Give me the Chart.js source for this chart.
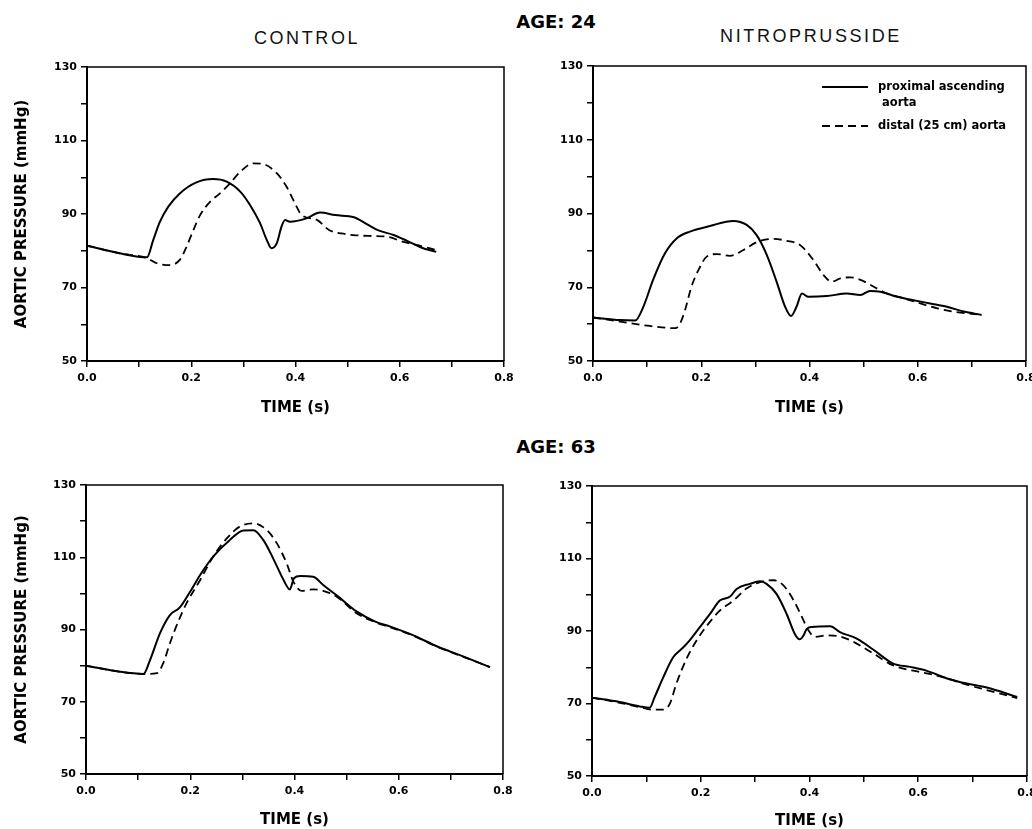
<!DOCTYPE html>
<html>
<head>
<meta charset="utf-8">
<title>Aortic pressure</title>
<script src="https://cdn.jsdelivr.net/npm/chart.js@4.4.0/dist/chart.umd.min.js"></script>
<style>
    body { margin: 0; background: #fff; width: 1032px; height: 829px; overflow: hidden; position: relative; }
    canvas { position: absolute; }
    .head { position: absolute; font: bold 18px "DejaVu Sans", sans-serif; line-height: 20px; color: #000; transform: translateX(-50%); white-space: nowrap; }
    .sub { position: absolute; font: 18px "Liberation Sans", Arial, sans-serif; line-height: 20px; letter-spacing: 2.6px; color: #111; transform: translateX(-50%); white-space: nowrap; }
</style>
</head>
<body>
<div class="head" style="left:556px; top:12px">AGE: 24</div>
<div class="sub" style="left:307px; top:28px">CONTROL</div>
<div class="sub" style="left:811px; top:26px">NITROPRUSSIDE</div>
<div class="head" style="left:556px; top:437px">AGE: 63</div>

<canvas id="young_control" width="530" height="367" style="left:0; top:50px"></canvas>
<canvas id="young_nitro" width="492" height="367" style="left:540px; top:50px"></canvas>
<canvas id="old_control" width="530" height="359" style="left:0; top:470px"></canvas>
<canvas id="old_nitro" width="492" height="360" style="left:540px; top:470px"></canvas>

<script>
// series names (legend) and axis labels
var seriesNames = [["proximal ascending", " aorta"], "distal (25 cm) aorta"];
var yTitle = "AORTIC PRESSURE (mmHg)";
var xTitle = "TIME (s)";

// AGE 24, control
var yc_t_prox = [0, 0.063, 0.115, 0.127, 0.14, 0.156, 0.178, 0.21, 0.242, 0.268, 0.294, 0.313, 0.332, 0.345, 0.354, 0.364, 0.373, 0.38, 0.389, 0.421, 0.447, 0.476, 0.512, 0.535, 0.558, 0.588, 0.617, 0.641, 0.67];
var yc_p_prox = [81.4, 79.3, 78.2, 82.9, 87.9, 92.0, 95.6, 98.6, 99.5, 98.8, 96.1, 92.4, 87.5, 82.9, 80.7, 82.0, 86.5, 88.4, 87.9, 88.8, 90.4, 89.7, 89.1, 87.4, 85.6, 84.3, 82.5, 80.9, 79.7];
var yc_t_dist = [0, 0.063, 0.115, 0.134, 0.159, 0.178, 0.191, 0.204, 0.217, 0.236, 0.255, 0.274, 0.294, 0.319, 0.338, 0.364, 0.383, 0.399, 0.412, 0.441, 0.465, 0.488, 0.517, 0.547, 0.576, 0.605, 0.635, 0.67];
var yc_p_dist = [81.4, 79.3, 78.0, 76.6, 76.1, 77.5, 81.1, 85.6, 89.7, 93.3, 95.6, 98.3, 101.5, 103.8, 103.6, 101.1, 97.4, 92.9, 89.7, 88.4, 85.6, 84.7, 84.2, 84.0, 83.8, 82.5, 81.5, 80.2];

// AGE 24, nitroprusside
var yn_t_prox = [0, 0.05, 0.078, 0.093, 0.111, 0.133, 0.155, 0.179, 0.216, 0.259, 0.284, 0.302, 0.321, 0.339, 0.355, 0.366, 0.376, 0.386, 0.398, 0.432, 0.469, 0.494, 0.512, 0.531, 0.562, 0.592, 0.623, 0.654, 0.685, 0.718];
var yn_p_prox = [61.8, 61.1, 61.0, 64.7, 72.0, 79.2, 83.3, 85.1, 86.6, 88.0, 86.9, 84.2, 78.8, 71.6, 64.7, 62.2, 64.7, 68.3, 67.4, 67.6, 68.3, 67.9, 69.0, 68.8, 67.4, 66.5, 65.6, 64.7, 63.4, 62.5];
var yn_t_dist = [0, 0.05, 0.105, 0.152, 0.161, 0.17, 0.182, 0.195, 0.21, 0.229, 0.253, 0.278, 0.302, 0.333, 0.358, 0.383, 0.407, 0.426, 0.441, 0.457, 0.475, 0.494, 0.518, 0.543, 0.574, 0.605, 0.636, 0.666, 0.718];
var yn_p_dist = [61.8, 60.7, 59.5, 58.9, 60.2, 63.8, 70.2, 74.7, 78.3, 79.0, 78.5, 80.1, 82.2, 83.1, 82.6, 81.4, 77.4, 73.3, 71.5, 72.4, 72.7, 72.0, 70.2, 68.3, 67.0, 65.6, 64.3, 63.4, 62.5];

// AGE 63, control
var oc_t_prox = [0, 0.065, 0.11, 0.123, 0.142, 0.161, 0.18, 0.2, 0.219, 0.244, 0.276, 0.302, 0.321, 0.34, 0.359, 0.379, 0.391, 0.399, 0.411, 0.436, 0.455, 0.484, 0.519, 0.555, 0.584, 0.626, 0.674, 0.721, 0.775];
var oc_p_prox = [80.0, 78.3, 77.7, 81.6, 89.0, 94.0, 96.1, 100.5, 105.1, 110.2, 114.8, 117.4, 117.5, 114.8, 109.7, 103.7, 101.1, 104.2, 104.8, 104.6, 102.3, 99.1, 95.0, 92.2, 90.8, 88.5, 85.3, 82.7, 79.6];
var oc_t_dist = [0, 0.065, 0.112, 0.136, 0.148, 0.161, 0.177, 0.193, 0.219, 0.244, 0.27, 0.295, 0.321, 0.347, 0.366, 0.385, 0.398, 0.414, 0.436, 0.455, 0.481, 0.519, 0.555, 0.584, 0.626, 0.674, 0.721, 0.775];
var oc_p_dist = [80.0, 78.3, 77.7, 77.9, 80.6, 86.2, 92.2, 97.3, 103.7, 110.2, 115.2, 118.5, 119.4, 117.5, 113.9, 108.3, 103.2, 100.7, 101.1, 100.7, 99.1, 94.5, 92.0, 90.6, 88.4, 85.2, 82.6, 79.6];

// AGE 63, nitroprusside
var on_t_prox = [0, 0.051, 0.088, 0.106, 0.115, 0.131, 0.149, 0.168, 0.18, 0.198, 0.217, 0.235, 0.254, 0.266, 0.29, 0.309, 0.321, 0.339, 0.358, 0.373, 0.382, 0.389, 0.395, 0.404, 0.438, 0.456, 0.487, 0.517, 0.554, 0.585, 0.616, 0.653, 0.689, 0.726, 0.782];
var on_p_prox = [71.6, 70.4, 69.2, 68.8, 71.7, 77.2, 82.7, 85.5, 87.5, 91.0, 94.7, 98.4, 99.5, 101.6, 103.0, 103.7, 103.0, 100.3, 94.7, 89.2, 87.7, 88.8, 90.6, 91.1, 91.3, 89.7, 87.9, 84.9, 81.0, 80.1, 79.0, 76.9, 75.5, 74.4, 71.8];
var on_t_dist = [0, 0.051, 0.088, 0.112, 0.131, 0.143, 0.155, 0.174, 0.192, 0.211, 0.235, 0.26, 0.284, 0.309, 0.334, 0.352, 0.371, 0.386, 0.398, 0.41, 0.432, 0.456, 0.481, 0.517, 0.554, 0.603, 0.64, 0.689, 0.726, 0.782];
var on_p_dist = [71.6, 70.2, 69.0, 68.3, 68.3, 69.9, 75.4, 82.4, 87.3, 91.4, 95.6, 98.4, 101.7, 103.5, 104.0, 102.6, 98.4, 93.9, 90.2, 88.4, 88.8, 88.5, 87.0, 83.8, 80.5, 78.7, 77.5, 75.2, 73.7, 71.5];


var tickFont = { family: "DejaVu Sans", weight: "bold", size: 11 };
var titleFont = { family: "DejaVu Sans", weight: "bold", size: 15 };

function points(t, p) {
    var out = [];
    for (var i = 0; i < t.length; i++) out.push({ x: t[i], y: p[i] });
    return out;
}

// top and right edges of the box
var frame = {
    id: 'frame',
    afterDraw: function(chart) {
        var a = chart.chartArea, ctx = chart.ctx;
        ctx.save();
        ctx.strokeStyle = '#000';
        ctx.lineWidth = 1.5;
        ctx.beginPath();
        ctx.moveTo(a.left, a.top);
        ctx.lineTo(a.right, a.top);
        ctx.lineTo(a.right, a.bottom);
        ctx.stroke();
        ctx.restore();
    }
};

// legend drawn inside the plot, upper right
var insideLegend = {
    id: 'insideLegend',
    afterDraw: function(chart) {
        var a = chart.chartArea, ctx = chart.ctx;
        var ds = chart.data.datasets;
        var rows = [
            { ds: ds[0], y: a.top + 21 },
            { ds: ds[1], y: a.top + 60 }
        ];
        ctx.save();
        ctx.font = 'bold 11.5px "DejaVu Sans"';
        ctx.fillStyle = '#000';
        ctx.textBaseline = 'middle';
        rows.forEach(function(r) {
            ctx.strokeStyle = r.ds.borderColor;
            ctx.lineWidth = r.ds.borderWidth;
            ctx.setLineDash(r.ds.borderDash || []);
            ctx.beginPath();
            ctx.moveTo(a.right - 204, r.y);
            ctx.lineTo(a.right - 158, r.y);
            ctx.stroke();
            var lines = Array.isArray(r.ds.label) ? r.ds.label : [r.ds.label];
            for (var i = 0; i < lines.length; i++) {
                ctx.fillText(lines[i], a.right - 148, r.y + i * 16);
            }
        });
        ctx.restore();
    }
};

function panel(id, tProx, pProx, tDist, pDist, cfg) {
    var plugins = [frame];
    if (cfg.legend) plugins.push(insideLegend);

    new Chart(document.getElementById(id), {
        type: 'line',
        data: {
            datasets: [{
                label: seriesNames[0],
                data: points(tProx, pProx),
                borderColor: '#000',
                borderWidth: 2,
                pointRadius: 0,
                cubicInterpolationMode: 'monotone'
            }, {
                label: seriesNames[1],
                data: points(tDist, pDist),
                borderColor: '#000',
                borderWidth: 1.8,
                borderDash: [8, 5],
                pointRadius: 0,
                cubicInterpolationMode: 'monotone'
            }]
        },
        options: {
            responsive: false,
            animation: false,
            layout: { padding: { top: cfg.padTop, right: cfg.padRight, left: 0, bottom: 0 } },
            plugins: {
                legend: { display: false },
                tooltip: { enabled: false }
            },
            scales: {
                x: {
                    type: 'linear',
                    min: 0,
                    max: 0.8,
                    ticks: {
                        stepSize: 0.1,
                        autoSkip: false,
                        maxRotation: 0,
                        padding: 5,
                        color: '#000',
                        font: tickFont,
                        callback: function(v) {
                            return Math.round(v * 10) % 2 === 0 ? v.toFixed(1) : '';
                        }
                    },
                    grid: { drawOnChartArea: false, drawTicks: true, tickLength: 6, color: '#000', lineWidth: 1.5 },
                    border: { color: '#000', width: 2 },
                    title: { display: true, text: xTitle, color: '#000', font: titleFont, padding: 0 },
                    afterFit: function(s) {
                        s.height = cfg.xHeight;
                        s.paddingLeft = 0;
                        s.paddingRight = 0;
                    }
                },
                y: {
                    min: 50,
                    max: 130,
                    ticks: {
                        stepSize: 10,
                        padding: 4,
                        color: '#000',
                        font: tickFont,
                        callback: function(v) {
                            return (v - 50) % 20 === 0 ? v : '';
                        }
                    },
                    grid: { drawOnChartArea: false, drawTicks: true, tickLength: 6, color: '#000', lineWidth: 1.5 },
                    border: { color: '#000', width: 2 },
                    title: { display: cfg.yTitle, text: yTitle, color: '#000', font: titleFont, padding: { top: 13, bottom: 0 } },
                    afterFit: function(s) {
                        s.width = cfg.yWidth;
                        s.paddingTop = 0;
                        s.paddingBottom = 0;
                    }
                }
            }
        },
        plugins: plugins
    });
}

panel('young_control', yc_t_prox, yc_p_prox, yc_t_dist, yc_p_dist,
    { yTitle: true, yWidth: 87, xHeight: 56, padTop: 17, padRight: 26 });
panel('young_nitro', yn_t_prox, yn_p_prox, yn_t_dist, yn_p_dist,
    { yTitle: false, yWidth: 53, xHeight: 56, padTop: 16, padRight: 6, legend: true });
panel('old_control', oc_t_prox, oc_p_prox, oc_t_dist, oc_p_dist,
    { yTitle: true, yWidth: 86, xHeight: 55, padTop: 15, padRight: 27 });
panel('old_nitro', on_t_prox, on_p_prox, on_t_dist, on_p_dist,
    { yTitle: false, yWidth: 52, xHeight: 54, padTop: 16, padRight: 5 });
</script>
</body>
</html>
